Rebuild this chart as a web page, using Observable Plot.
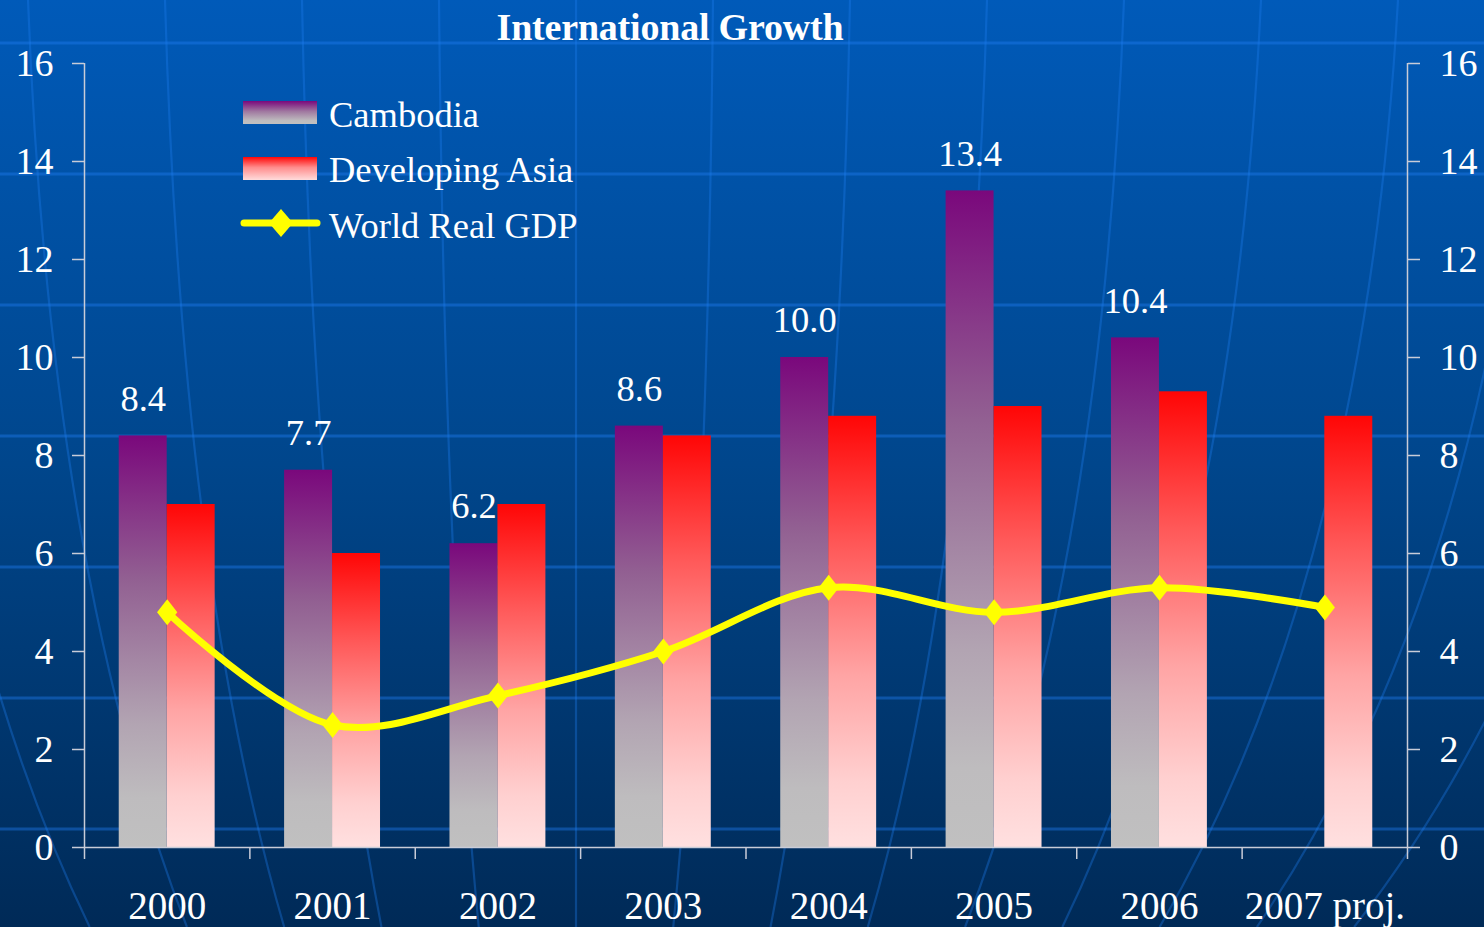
<!DOCTYPE html>
<html>
<head>
<meta charset="utf-8">
<script src="https://cdn.jsdelivr.net/npm/d3@7"></script>
<script src="https://cdn.jsdelivr.net/npm/@observablehq/plot@0.6"></script>
<style>
html, body { margin: 0; padding: 0; }
body {
  width: 1484px; height: 927px; overflow: hidden; position: relative;
  background: linear-gradient(to bottom, #005ab9 0%, #00468c 50%, #002a57 100%);
  font-family: "Liberation Serif", "Times New Roman", serif;
  color: white;
}
#bg, #chart { position: absolute; left: 0; top: 0; }
#title {
  position: absolute; left: 0; top: 8px; width: 1340px; text-align: center;
  font-weight: bold; font-size: 38px; line-height: 38px; letter-spacing: -0.2px;
}
.lg-text { position: absolute; left: 329px; font-size: 36.5px; line-height: 36px; white-space: nowrap; }
.lg-sw { position: absolute; left: 243px; width: 74px; height: 23px; }
#lg-line { position: absolute; left: 236px; top: 206px; }
</style>
</head>
<body>
<svg width="0" height="0" style="position:absolute">
  <defs>
    <linearGradient id="gCamb" x1="0" y1="0" x2="0" y2="1">
      <stop offset="0" stop-color="rgb(122,8,124)"/>
      <stop offset="0.35" stop-color="rgb(146,96,146)"/>
      <stop offset="0.7" stop-color="rgb(178,164,178)"/>
      <stop offset="0.88" stop-color="rgb(190,188,190)"/>
      <stop offset="1" stop-color="rgb(192,192,192)"/>
    </linearGradient>
    <linearGradient id="gAsia" x1="0" y1="0" x2="0" y2="1">
      <stop offset="0" stop-color="rgb(255,6,6)"/>
      <stop offset="0.3" stop-color="rgb(255,88,88)"/>
      <stop offset="0.6" stop-color="rgb(255,164,164)"/>
      <stop offset="0.85" stop-color="rgb(255,208,208)"/>
      <stop offset="1" stop-color="rgb(255,224,224)"/>
    </linearGradient>
  </defs>
</svg>
<svg id="bg" width="1484" height="927"></svg>
<div id="chart"></div>
<div id="title"></div>
<div id="legend"></div>
<script>
// ---- data ----
const titleText = "International Growth";
const years = ["2000", "2001", "2002", "2003", "2004", "2005", "2006", "2007 proj."];
const cambodia = [8.4, 7.7, 6.2, 8.6, 10.0, 13.4, 10.4, null];
const developingAsia = [7.0, 6.0, 7.0, 8.4, 8.8, 9.0, 9.3, 8.8];
const worldRealGDP = [4.8, 2.5, 3.1, 4.0, 5.3, 4.8, 5.3, 4.9];
const seriesNames = ["Cambodia", "Developing Asia", "World Real GDP"];
const yTicks = [0, 2, 4, 6, 8, 10, 12, 14, 16];

const rows = years.map((year, i) => ({
  year, i, cambodia: cambodia[i], asia: developingAsia[i], world: worldRealGDP[i]
}));

// ---- decorative background (globe grid) ----
(function drawBackground() {
  const bg = d3.select("#bg");
  const W = 1484, H = 927;
  const hy = d3.range(7).map(k => 43 + 131 * k);
  bg.selectAll("line.h").data(hy).join("line")
    .attr("x1", 0).attr("x2", W).attr("y1", d => d).attr("y2", d => d)
    .attr("stroke", "rgba(30,125,240,0.42)").attr("stroke-width", 3);
  const c = 576, s = 0.71;
  const tops = d3.range(-3, 13).map(k => 28 + 137 * k);
  bg.selectAll("path.m").data(tops).join("path")
    .attr("d", xt => {
      const xb = c + (xt - c) * s;
      return `M${xt},0 Q${xt + (c - xt) * 0.04},${H * 0.62} ${xb},${H}`;
    })
    .attr("fill", "none").attr("stroke", "rgba(30,125,240,0.34)").attr("stroke-width", 2.2);
})();

// ---- chart ----
const BW = 0.29;
const axisColor = "#c8ccd8";
const tallDiamond = {
  draw(ctx, size) {
    const h = Math.sqrt(size / Math.PI), w = h * 0.78;
    ctx.moveTo(0, -h); ctx.lineTo(w, 0); ctx.lineTo(0, h); ctx.lineTo(-w, 0); ctx.closePath();
  }
};

const plot = Plot.plot({
  width: 1484,
  height: 927,
  marginLeft: 84,
  marginRight: 77,
  marginTop: 63,
  marginBottom: 80,
  style: { background: "transparent", color: "white", fontFamily: '"Liberation Serif", "Times New Roman", serif', overflow: "visible" },
  x: { type: "linear", domain: [0, years.length], axis: null, label: null },
  y: { domain: [0, 16], axis: null, label: null },
  marks: [
    Plot.rectY(rows.filter(d => d.cambodia != null), {
      x1: d => d.i + 0.5 - BW, x2: d => d.i + 0.5, y1: 0, y2: "cambodia", fill: "url(#gCamb)"
    }),
    Plot.rectY(rows, {
      x1: d => d.i + 0.5, x2: d => d.i + 0.5 + BW, y1: 0, y2: "asia", fill: "url(#gAsia)"
    }),
    Plot.text(rows.filter(d => d.cambodia != null), {
      x: d => d.i + 0.5 - BW / 2, y: "cambodia", text: d => d.cambodia.toFixed(1),
      dy: -37, fontSize: 36.5, fill: "white"
    }),
    Plot.line(rows, {
      x: d => d.i + 0.5, y: "world", stroke: "#ffff00", strokeWidth: 7, curve: "catmull-rom"
    }),
    Plot.dot(rows, {
      x: d => d.i + 0.5, y: "world", r: 13, symbol: tallDiamond, fill: "#ffff00", stroke: "none"
    }),
    // axes
    Plot.ruleX([0, years.length], { y1: 0, y2: 16, stroke: axisColor, strokeWidth: 1.5 }),
    Plot.ruleY([0], { x1: 0, x2: years.length, stroke: axisColor, strokeWidth: 1.5 }),
    Plot.axisY(yTicks, { anchor: "left", tickSize: 12, tickPadding: 19, fontSize: 38, stroke: axisColor, fill: "white", strokeWidth: 1.5, label: null }),
    Plot.axisY(yTicks, { anchor: "right", tickSize: 12, tickPadding: 20, fontSize: 38, stroke: axisColor, fill: "white", strokeWidth: 1.5, label: null }),
    Plot.axisX(d3.range(years.length + 1), { anchor: "bottom", tickSize: 12, tickFormat: () => "", stroke: axisColor, strokeWidth: 1.5, label: null }),
    Plot.axisX(rows.map(d => d.i + 0.5), { anchor: "bottom", tickSize: 0, tickPadding: 44, fontSize: 39, fill: "white", tickFormat: v => years[Math.floor(v)], label: null })
  ]
});
document.getElementById("chart").appendChild(plot);

// ---- title & legend ----
document.getElementById("title").textContent = titleText;
const legend = document.getElementById("legend");
const swatchFills = [
  "linear-gradient(to bottom, rgb(122,8,124) 0%, rgb(160,120,160) 45%, rgb(190,188,190) 85%, rgb(192,192,192) 100%)",
  "linear-gradient(to bottom, rgb(255,6,6) 0%, rgb(255,140,140) 45%, rgb(255,220,220) 100%)"
];
const textTops = [97, 152, 208];
seriesNames.forEach((name, k) => {
  const t = document.createElement("div");
  t.className = "lg-text";
  t.style.top = textTops[k] + "px";
  t.textContent = name;
  legend.appendChild(t);
  if (k < 2) {
    const sw = document.createElement("div");
    sw.className = "lg-sw";
    sw.style.top = (101 + 56 * k) + "px";
    sw.style.background = swatchFills[k];
    legend.appendChild(sw);
  }
});
legend.insertAdjacentHTML("beforeend",
  `<svg id="lg-line" width="90" height="34"><line x1="8" y1="17" x2="81" y2="17" stroke="#ffff00" stroke-width="7" stroke-linecap="round"/>` +
  `<path d="M45,3 L57,17 L45,31 L33,17 Z" fill="#ffff00"/></svg>`);
</script>
</body>
</html>
